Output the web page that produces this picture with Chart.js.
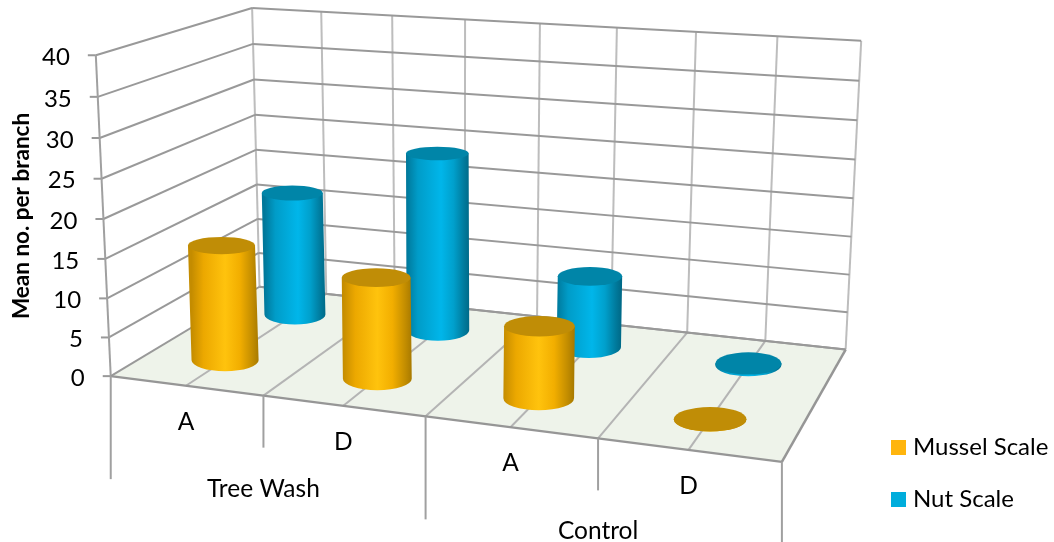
<!DOCTYPE html>
<html>
<head>
<meta charset="utf-8">
<title>Mean no. per branch</title>
<script src="https://cdn.jsdelivr.net/npm/chart.js@4"></script>
<style>
  html, body { margin: 0; padding: 0; background: #fff; }
  canvas { display: block; }
</style>
</head>
<body>
<canvas id="chart" width="1054" height="542"></canvas>
<script>
const categories = ['A', 'D', 'A', 'D'];
const groups = ['Tree Wash', 'Control'];
const mussel = [15, 12.9, 9, 0];
const nut = [17, 24, 9.5, 0.2];
const yTitle = 'Mean no. per branch';

// box corners on screen: [u, v, w, x, y], u along categories, v into depth, w up
const boxCorners = [
  [0, 0, 0, 111.7, 376], [0, 0, 1, 95, 55],
  [0, 1, 0, 258.5, 287], [0, 1, 1, 253, 8],
  [1, 1, 0, 846, 349], [1, 1, 1, 861, 41],
  [1, 0, 0, 781.7, 462.3],
];

// least squares fit of the perspective camera
function fitCamera(pts) {
  const rows = [], rhs = [];
  pts.forEach(([u, v, w, x, y]) => {
    rows.push([u, v, w, 1, 0, 0, 0, 0, -x * u, -x * v, -x * w]); rhs.push(x);
    rows.push([0, 0, 0, 0, u, v, w, 1, -y * u, -y * v, -y * w]); rhs.push(y);
  });
  const n = 11;
  const m = Array.from({ length: n }, (_, i) => {
    const r = [];
    for (let j = 0; j < n; j++) r.push(rows.reduce((s, a) => s + a[i] * a[j], 0));
    r.push(rows.reduce((s, a, k) => s + a[i] * rhs[k], 0));
    return r;
  });
  for (let i = 0; i < n; i++) {
    let p = i;
    for (let k = i + 1; k < n; k++) if (Math.abs(m[k][i]) > Math.abs(m[p][i])) p = k;
    [m[i], m[p]] = [m[p], m[i]];
    for (let k = 0; k < n; k++) {
      if (k === i) continue;
      const f = m[k][i] / m[i][i];
      for (let j = i; j <= n; j++) m[k][j] -= f * m[i][j];
    }
  }
  return m.map((r, i) => r[n] / r[i]);
}

const cam = fitCamera(boxCorners);
function project(u, v, w) {
  const d = cam[8] * u + cam[9] * v + cam[10] * w + 1;
  return {
    x: (cam[0] * u + cam[1] * v + cam[2] * w + cam[3]) / d,
    y: (cam[4] * u + cam[5] * v + cam[6] * w + cam[7]) / d,
  };
}

function line(ctx, a, b, color, width) {
  ctx.strokeStyle = color;
  ctx.lineWidth = width;
  ctx.beginPath();
  ctx.moveTo(a.x, a.y);
  ctx.lineTo(b.x, b.y);
  ctx.stroke();
}

function drawBox(ctx, chart) {
  const yScale = chart.scales.y;
  const wOf = (val) => (yScale.bottom - yScale.getPixelForValue(val)) / (yScale.bottom - yScale.top);

  // floor
  ctx.fillStyle = '#eef3ea';
  ctx.beginPath();
  [[0, 0], [1, 0], [1, 1], [0, 1]].forEach(([u, v], i) => {
    const p = project(u, v, 0);
    if (i) ctx.lineTo(p.x, p.y); else ctx.moveTo(p.x, p.y);
  });
  ctx.closePath();
  ctx.fill();

  // divisions on floor and back wall
  for (let k = 0; k <= 8; k++) {
    const u = k / 8;
    line(ctx, project(u, 1, 0), project(u, 1, 1), '#bdbdbd', 2);
    if (k > 0 && k < 8) line(ctx, project(u, 0, 0), project(u, 1, 0), '#b4b4b4', 2);
  }

  // value lines round the two walls
  yScale.ticks.forEach((t) => {
    const w = wOf(t.value);
    const a = project(0, 0, w);
    line(ctx, { x: a.x - 8, y: a.y }, a, '#999', 2);
    line(ctx, a, project(0, 1, w), '#999', 2);
    line(ctx, project(0, 1, w), project(1, 1, w), '#999', 2);
  });
  line(ctx, project(0, 0, 0), project(0, 0, 1), '#a0a0a0', 2);
  line(ctx, project(0, 1, 0), project(1, 1, 0), '#999', 2);
  line(ctx, project(1, 1, 0), project(1, 0, 0), '#969696', 2.5);
  line(ctx, project(0, 0, 0), project(1, 0, 0), '#969696', 2.5);

  // y tick labels follow the slanted edge
  ctx.fillStyle = '#000';
  ctx.font = '24px Lato';
  ctx.textAlign = 'right';
  ctx.textBaseline = 'middle';
  yScale.ticks.forEach((t) => {
    const a = project(0, 0, wOf(t.value));
    ctx.fillText(t.label, a.x - 26, a.y + 2);
  });

  // axis title
  ctx.save();
  ctx.translate(22, 216);
  ctx.rotate(-Math.PI / 2);
  ctx.font = 'bold 22.5px Lato';
  ctx.textAlign = 'center';
  ctx.fillText(yTitle, 0, 0);
  ctx.restore();

  // two level category axis under the front edge
  const n = categories.length;
  for (let i = 0; i <= n; i++) {
    const p = project(i / n, 0, 0);
    const drop = i % 2 ? 52 : 103;
    line(ctx, p, { x: p.x, y: p.y + drop }, '#a0a0a0', 2);
  }
  ctx.font = '24.5px Lato';
  ctx.textAlign = 'center';
  const xScale = chart.scales.x;
  categories.forEach((c, i) => {
    const u = (xScale.getPixelForValue(i) - xScale.left) / (xScale.right - xScale.left);
    const p = project(u, 0, 0);
    ctx.fillText(c, p.x, p.y + 36);
  });
  groups.forEach((g, i) => {
    const p = project((i * 2 + 1) / n, 0, 0);
    ctx.fillText(g, p.x, p.y + 93);
  });
}

function drawCylinder(ctx, chart, index, value, v, shades) {
  const xScale = chart.scales.x, yScale = chart.scales.y;
  const u = (xScale.getPixelForValue(index) - xScale.left) / (xScale.right - xScale.left);
  const w = (yScale.bottom - yScale.getPixelForValue(value)) / (yScale.bottom - yScale.top);
  const ell = (wv) => {
    const c = project(u, v, wv);
    // width grows slowly to the right, back row is a bit narrower
    const rx = (64.5 - 13.8 * (v - 0.25) + 0.0115 * c.x) / 2;
    return { x: c.x, y: c.y, rx, ry: 3.5 + 0.021 * c.y };
  };
  const base = ell(0), top = ell(w);

  const grad = ctx.createLinearGradient(base.x - base.rx, 0, base.x + base.rx, 0);
  shades.side.forEach(([stop, color]) => grad.addColorStop(stop, color));
  ctx.fillStyle = grad;
  ctx.beginPath();
  ctx.moveTo(top.x - top.rx, top.y);
  ctx.lineTo(base.x - base.rx, base.y);
  ctx.ellipse(base.x, base.y, base.rx, base.ry, 0, Math.PI, 0, true);
  ctx.lineTo(top.x + top.rx, top.y);
  ctx.closePath();
  ctx.fill();

  ctx.fillStyle = shades.top;
  ctx.beginPath();
  ctx.ellipse(top.x, top.y, top.rx, top.ry, 0, 0, Math.PI * 2);
  ctx.fill();
}

const musselShades = {
  top: '#c08d06',
  side: [[0, '#c48c00'], [0.18, '#eca800'], [0.5, '#ffc30d'], [0.72, '#f2ae00'], [0.9, '#c48e00'], [1, '#a87a00']],
};
const nutShades = {
  top: '#0085a8',
  side: [[0, '#00789a'], [0.18, '#009cc8'], [0.55, '#00b6ea'], [0.75, '#00a0cc'], [0.92, '#007a9c'], [1, '#006a88']],
};

const box3d = {
  id: 'box3d',
  beforeDatasetsDraw(chart) {
    const ctx = chart.ctx;
    ctx.save();
    drawBox(ctx, chart);
    // back row first, the front row overlaps it
    nut.forEach((val, i) => drawCylinder(ctx, chart, i, val, 0.75, nutShades));
    mussel.forEach((val, i) => drawCylinder(ctx, chart, i, val, 0.25, musselShades));

    // legend
    ctx.font = '24px Lato';
    ctx.textAlign = 'left';
    ctx.textBaseline = 'middle';
    chart.data.datasets.forEach((ds, i) => {
      const y = 447.5 + i * 52;
      ctx.fillStyle = ds.backgroundColor;
      ctx.fillRect(891, y - 7.5, 15, 15);
      ctx.fillStyle = '#000';
      ctx.fillText(ds.label, 913, y);
    });
    ctx.restore();
    return false;
  },
};

new Chart(document.getElementById('chart'), {
  type: 'bar',
  data: {
    labels: categories,
    datasets: [
      { label: 'Mussel Scale', data: mussel, backgroundColor: '#ffb50d' },
      { label: 'Nut Scale', data: nut, backgroundColor: '#00addc' },
    ],
  },
  plugins: [box3d],
  options: {
    responsive: false,
    animation: false,
    layout: { padding: { left: 112, right: 272, top: 55, bottom: 166 } },
    plugins: { legend: { display: false }, tooltip: { enabled: false } },
    scales: {
      x: { display: false },
      y: { display: false, min: 0, max: 40, ticks: { stepSize: 5 } },
    },
  },
});
</script>
</body>
</html>
